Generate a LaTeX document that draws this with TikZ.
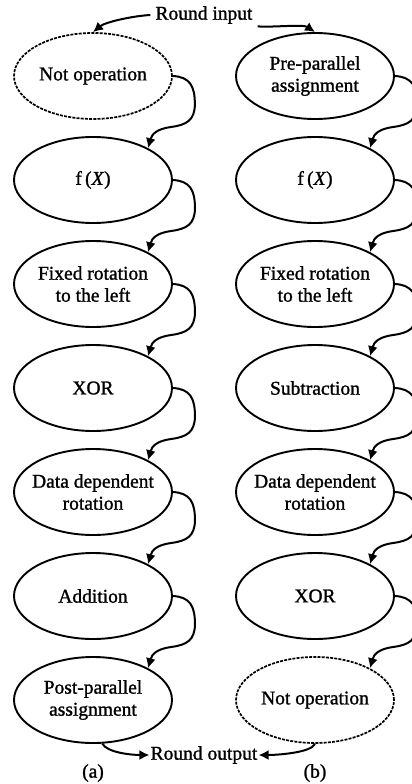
\documentclass[tikz,border=0pt]{standalone}
\usepackage{fontspec}
\setmainfont[FakeBold=1.2]{Liberation Serif}
\usetikzlibrary{arrows.meta,calc,shapes.geometric}
\newcommand\loopconn[2]{%
  \draw[conn] (#1.east) .. controls ($(#1.east)+(17,1)$) and ($(#1.east)+(22,10)$) .. ($(#1.east)+(22,28)$)
    .. controls ($(#1.east)+(22,44)$) and ($(#1.east)+(14,49)$) .. ($(#1.east)+(-2,51)$)
    .. controls ($(#1.east)+(-16,53)$) and ($(#1.east)+(-21,58)$) .. (#2.30);}
\begin{document}
\begin{tikzpicture}[x=1pt,y=-1pt,
  op/.style={ellipse, draw, line width=1.9pt, minimum width=158pt, minimum height=86pt, inner sep=0pt},
  dop/.style={op, line width=1.7pt, dash pattern=on 3pt off 1.2pt},
  lbl/.style={align=center, font=\fontsize{19.5}{22}\selectfont, inner sep=0pt},
  io/.style={lbl, inner sep=5pt},
  conn/.style={line width=2pt, -{Latex[length=10pt,width=10pt]}},
]
\useasboundingbox (0,0) rectangle (412,784);
\clip (0,0) rectangle (412,784);
\fill[white] (0,0) rectangle (412,784);

% left column
\node[dop] (a1) at (93,76) {};  \node[lbl] at (a1) {Not operation};
\node[op]  (a2) at (93,180) {}; \node[lbl] at (a2) {f\,(\textit{X})};
\node[op]  (a3) at (93,284) {}; \node[lbl] at (a3) {Fixed rotation\\to the left};
\node[op]  (a4) at (93,388) {}; \node[lbl] at (a4) {XOR};
\node[op]  (a5) at (93,492) {}; \node[lbl] at (a5) {Data dependent\\rotation};
\node[op]  (a6) at (93,596) {}; \node[lbl] at (a6) {Addition};
\node[op]  (a7) at (93,700) {}; \node[lbl] at (a7) {Post-parallel\\assignment};

% right column
\node[op]  (b1) at (315,76) {};  \node[lbl] at (b1) {Pre-parallel\\assignment};
\node[op]  (b2) at (315,180) {}; \node[lbl] at (b2) {f\,(\textit{X})};
\node[op]  (b3) at (315,284) {}; \node[lbl] at (b3) {Fixed rotation\\to the left};
\node[op]  (b4) at (315,388) {}; \node[lbl] at (b4) {Subtraction};
\node[op]  (b5) at (315,492) {}; \node[lbl] at (b5) {Data dependent\\rotation};
\node[op]  (b6) at (315,596) {}; \node[lbl] at (b6) {XOR};
\node[dop] (b7) at (315,700) {}; \node[lbl] at (b7) {Not operation};

\loopconn{a1}{a2}\loopconn{a2}{a3}\loopconn{a3}{a4}\loopconn{a4}{a5}\loopconn{a5}{a6}\loopconn{a6}{a7}
\loopconn{b1}{b2}\loopconn{b2}{b3}\loopconn{b3}{b4}\loopconn{b4}{b5}\loopconn{b5}{b6}\loopconn{b6}{b7}

% round input / output
\node[io] (rin) at (204,15) {Round input};
\draw[conn] (rin.west) .. controls +(-18,1) and +(12,-10) .. (a1.north);
\draw[conn] (rin.-12) .. controls +(18,1) and +(-12,-8) .. (b1.north);

\node[io, inner sep=1pt] (rout) at (204,755) {Round output};
\draw[conn] (a7.-78) .. controls +(5,9) and +(-18,0) .. (rout.west);
\draw[conn] (b7.south) .. controls +(-4,9) and +(18,0) .. (rout.east);

\node[lbl] (la) at (93,773) {(a)};
\node[lbl] (lb) at (315,773) {(b)};
\end{tikzpicture}
\end{document}
